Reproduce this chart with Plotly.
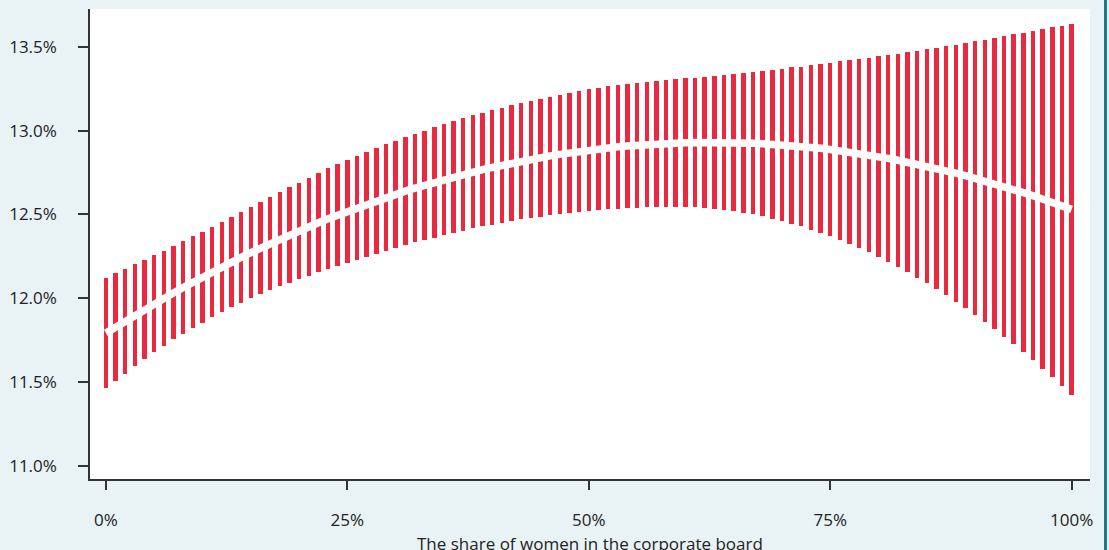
import plotly.graph_objects as go

# Share of women on the corporate board (%)
share = list(range(0, 101))

# Point estimate (%)
estimate = [
    11.793, 11.829, 11.864, 11.899, 11.933, 11.967, 12.000, 12.032, 12.064, 12.096,
    12.126, 12.157, 12.186, 12.215, 12.244, 12.272, 12.299, 12.326, 12.352, 12.377,
    12.402, 12.427, 12.450, 12.474, 12.496, 12.518, 12.540, 12.561, 12.581, 12.601,
    12.620, 12.639, 12.657, 12.674, 12.691, 12.708, 12.723, 12.738, 12.753, 12.767,
    12.780, 12.793, 12.806, 12.817, 12.828, 12.839, 12.849, 12.858, 12.867, 12.875,
    12.883, 12.890, 12.897, 12.903, 12.908, 12.913, 12.917, 12.920, 12.923, 12.926,
    12.928, 12.929, 12.930, 12.930, 12.930, 12.929, 12.927, 12.925, 12.922, 12.919,
    12.915, 12.911, 12.905, 12.900, 12.894, 12.887, 12.880, 12.872, 12.863, 12.854,
    12.844, 12.834, 12.823, 12.812, 12.800, 12.787, 12.774, 12.761, 12.746, 12.731,
    12.716, 12.700, 12.683, 12.666, 12.649, 12.630, 12.611, 12.592, 12.572, 12.551,
    12.530,
]

# Lower bound of the confidence interval (%)
lower = [
    11.467, 11.508, 11.551, 11.594, 11.637, 11.679, 11.718, 11.754, 11.789, 11.823,
    11.855, 11.887, 11.916, 11.945, 11.973, 12.000, 12.025, 12.049, 12.072, 12.093,
    12.114, 12.135, 12.154, 12.174, 12.192, 12.211, 12.230, 12.248, 12.265, 12.283,
    12.300, 12.317, 12.333, 12.348, 12.362, 12.377, 12.390, 12.403, 12.416, 12.428,
    12.439, 12.450, 12.461, 12.470, 12.478, 12.487, 12.495, 12.502, 12.509, 12.515,
    12.521, 12.526, 12.531, 12.535, 12.537, 12.540, 12.542, 12.543, 12.544, 12.545,
    12.545, 12.542, 12.539, 12.533, 12.527, 12.519, 12.510, 12.500, 12.488, 12.475,
    12.461, 12.445, 12.428, 12.410, 12.391, 12.370, 12.348, 12.324, 12.299, 12.273,
    12.245, 12.217, 12.187, 12.156, 12.123, 12.089, 12.054, 12.018, 11.979, 11.940,
    11.900, 11.858, 11.815, 11.770, 11.725, 11.678, 11.629, 11.580, 11.529, 11.477,
    11.423,
]

# Upper bound of the confidence interval (%)
upper = [
    12.119, 12.150, 12.177, 12.204, 12.229, 12.255, 12.282, 12.310, 12.339, 12.369,
    12.397, 12.427, 12.456, 12.485, 12.515, 12.544, 12.573, 12.603, 12.632, 12.661,
    12.690, 12.719, 12.746, 12.774, 12.800, 12.825, 12.850, 12.874, 12.897, 12.919,
    12.940, 12.961, 12.981, 13.000, 13.020, 13.039, 13.056, 13.073, 13.090, 13.106,
    13.121, 13.136, 13.151, 13.164, 13.178, 13.191, 13.203, 13.214, 13.225, 13.235,
    13.245, 13.254, 13.263, 13.271, 13.279, 13.286, 13.292, 13.297, 13.302, 13.307,
    13.311, 13.316, 13.321, 13.327, 13.333, 13.339, 13.344, 13.350, 13.356, 13.363,
    13.369, 13.377, 13.382, 13.390, 13.397, 13.404, 13.412, 13.420, 13.427, 13.435,
    13.443, 13.451, 13.459, 13.468, 13.477, 13.485, 13.494, 13.504, 13.513, 13.522,
    13.532, 13.542, 13.551, 13.562, 13.573, 13.582, 13.593, 13.604, 13.615, 13.625,
    13.637,
]

x_ticks = [0, 25, 50, 75, 100]
y_ticks = [11.0, 11.5, 12.0, 12.5, 13.0, 13.5]
x_title = "The share of women in the corporate board"

RED = "#e8293f"
BG = "#e9f2f5"
AXIS = "#333333"
TEAL = "#1b7b8c"
FONT = "Open Sans"

fig = go.Figure()

fig.add_trace(go.Bar(
    x=share,
    y=[u - l for u, l in zip(upper, lower)],
    base=lower,
    width=0.46,
    marker=dict(color=RED, line=dict(width=0)),
    hoverinfo="skip",
    showlegend=False,
))

fig.add_trace(go.Scatter(
    x=share,
    y=estimate,
    mode="lines",
    line=dict(color="white", width=7.5),
    hoverinfo="skip",
    showlegend=False,
))

fig.update_layout(
    width=1109,
    height=550,
    margin=dict(l=80, r=27, t=1, b=79),
    paper_bgcolor=BG,
    plot_bgcolor="white",
    font=dict(family=FONT, size=17, color="#222222"),
    bargap=0,
    xaxis=dict(
        range=[-1.65, 101.9],
        tickvals=x_ticks,
        ticktext=[f"{v}%" for v in x_ticks],
        ticks="outside",
        ticklen=9,
        tickwidth=1.5,
        tickcolor=AXIS,
        showline=True,
        linecolor=AXIS,
        linewidth=1.5,
        showgrid=False,
        zeroline=False,
        ticklabelstandoff=16,
        fixedrange=True,
    ),
    yaxis=dict(
        range=[10.922, 13.725],
        tickvals=y_ticks,
        ticktext=[f"{v:.1f}%" for v in y_ticks],
        ticks="outside",
        ticklen=10,
        tickwidth=1.5,
        tickcolor=AXIS,
        showline=True,
        linecolor=AXIS,
        linewidth=1.5,
        showgrid=False,
        zeroline=False,
        ticklabelstandoff=18,
        fixedrange=True,
    ),
    annotations=[dict(
        text=x_title, xref="paper", yref="paper", x=0.5, y=0,
        xanchor="center", yanchor="top", yshift=-51, showarrow=False,
        font=dict(family=FONT, size=17, color="#222222"),
    )],
)

post = (
    "document.body.style.backgroundColor='" + BG + "';"
    "var edge=document.createElement('div');"
    "edge.style.cssText='position:fixed;left:1104px;top:0;width:3px;height:100%;"
    "background:" + TEAL + ";z-index:10;';"
    "document.body.appendChild(edge);"
)

fig.write_html("out.html", post_script=post)
